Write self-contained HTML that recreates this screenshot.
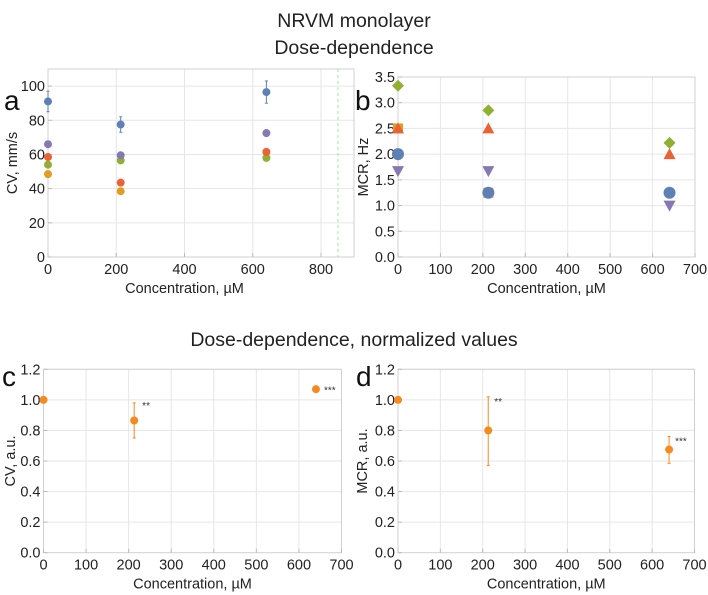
<!DOCTYPE html>
<html><head><meta charset="utf-8"><style>
html,body{margin:0;padding:0;background:#fff;}
svg{display:block;font-family:"Liberation Sans",sans-serif;}
</style></head><body>
<svg id="fig" width="708" height="595" viewBox="0 0 708 595" xmlns="http://www.w3.org/2000/svg">
<text x="354" y="27" font-size="19.5" text-anchor="middle" fill="#222">NRVM monolayer</text>
<text x="354" y="54" font-size="19.5" text-anchor="middle" fill="#222">Dose-dependence</text>
<text x="354" y="346" font-size="19.5" text-anchor="middle" fill="#222">Dose-dependence, normalized values</text>
</svg>
<script>
// ---- data ----
const concA = [0, 213, 640];
const cvBlue = [91, 77.5, 96.5];
const cvBlueErr = [6, 4.5, 6.5];
const cvPurple = [66, 59.5, 72.5];
const cvPurpleErr = [1.5, 1, 2];
const cvRed = [58.5, 43.5, 61.5];
const cvRedErr = [1, 0.5, 1.5];
const cvGreen = [54, 56.5, 58];
const cvGreenErr = [1, 1, 1];
const cvOrange = [48.5, 38.5, null];
const cvOrangeErr = [0.5, 0.5, 0];
const mcrGreen = [3.33, 2.85, 2.22];
const mcrRed = [2.5, 2.5, 2.0];
const mcrBlue = [2.0, 1.25, 1.25];
const mcrPurple = [1.67, 1.67, 1.0];
const mcrOrange = [2.5, 1.25, null];
const normCV = [1.0, 0.865, 1.07];
const normCVLo = [1.0, 0.75, 1.06];
const normCVHi = [1.0, 0.98, 1.08];
const normMCR = [1.0, 0.80, 0.675];
const normMCRLo = [1.0, 0.57, 0.585];
const normMCRHi = [1.0, 1.02, 0.76];
const sigLabelsC = ["", "**", "***"];
const sigLabelsD = ["", "**", "***"];
const ticksA_x = [0, 200, 400, 600, 800];
const ticksA_y = [0, 20, 40, 60, 80, 100];
const ticksB_x = [0, 100, 200, 300, 400, 500, 600, 700];
const ticksB_y = [0, 0.5, 1.0, 1.5, 2.0, 2.5, 3.0, 3.5];
const ticksN_y = [0, 0.2, 0.4, 0.6, 0.8, 1.0, 1.2];

const NS = "http://www.w3.org/2000/svg";
const svg = document.getElementById('fig');
function mk(tag, attrs, parent) {
  const e = document.createElementNS(NS, tag);
  for (const k in attrs) e.setAttribute(k, attrs[k]);
  (parent || svg).appendChild(e);
  return e;
}
function panel(p) {
  const g = mk('g', {});
  
  
  const sx = v => p.x0 + (v - p.xmin) / (p.xmax - p.xmin) * (p.x1 - p.x0);
  const sy = v => p.y0 - (v - p.ymin) / (p.ymax - p.ymin) * (p.y0 - p.y1);
  p.xt.forEach(t => { if (t > p.xmin) mk('line', {x1: sx(t), x2: sx(t), y1: p.y1, y2: p.y0, stroke: '#e6e6e6', 'stroke-width': 1}, g); });
  p.yt.forEach(t => { if (t > p.ymin) mk('line', {x1: p.x0, x2: p.right, y1: sy(t), y2: sy(t), stroke: '#e6e6e6', 'stroke-width': 1}, g); });
  const fr = mk('rect', {x: p.x0, y: p.y1, width: p.right - p.x0, height: p.y0 - p.y1, fill: 'none', stroke: '#d0d0d0', 'stroke-width': 1}, g);
  
  
  p.xt.forEach(t => {
    const tx = mk('text', {x: sx(t), y: p.y0 + 17, 'font-size': 14.5, 'text-anchor': 'middle', fill: '#222'}, g);
    tx.textContent = p.xfmt ? p.xfmt(t) : t;
    
    
    mk('line', {x1: sx(t), x2: sx(t), y1: p.y0, y2: p.y0 - 4, stroke: '#bbb'}, g);
  });
  p.yt.forEach(t => {
    const ty = mk('text', {x: p.x0 - 3, y: sy(t) + 5, 'font-size': 14.5, 'text-anchor': 'end', fill: '#222'}, g);
    ty.textContent = p.yfmt ? p.yfmt(t) : t;
    
    
    mk('line', {x1: p.x0, x2: p.x0 + 4, y1: sy(t), y2: sy(t), stroke: '#bbb'}, g);
  });
  const xl = mk('text', {x: (p.x0 + p.x1) / 2, y: p.y0 + 36, 'font-size': 14.5, 'text-anchor': 'middle', fill: '#222'}, g);
  xl.textContent = 'Concentration, \u00b5M';
  
  
  const yl = mk('text', {x: 0, y: 0, 'font-size': 14.5, 'text-anchor': 'middle', fill: '#222', transform: `translate(${p.ylx},${(p.y0 + p.y1) / 2}) rotate(-90)`}, g);
  yl.textContent = p.ytitle;
  
  
  const lt = mk('text', {x: p.lx, y: p.ly, 'font-size': 28, fill: '#111'}, g);
  lt.textContent = p.id;
  
  
  return {g, sx, sy};
}
function errPt(P, xs, ys, errLo, errHi, color, r) {
  xs.forEach((x, i) => {
    if (ys[i] == null) return;
    const cx = P.sx(x), cy = P.sy(ys[i]);
    if (errLo) {
      const lo = P.sy(errLo[i]), hi = P.sy(errHi[i]);
      const el = mk('line', {x1: cx, x2: cx, y1: lo, y2: hi, stroke: color, 'stroke-width': 1}, P.g);
      
      
      mk('line', {x1: cx - 1.5, x2: cx + 1.5, y1: lo, y2: lo, stroke: color}, P.g);
      mk('line', {x1: cx - 1.5, x2: cx + 1.5, y1: hi, y2: hi, stroke: color}, P.g);
    }
    const c = mk('circle', {cx, cy, r, fill: color}, P.g);
    
    
  });
}
function shapePt(P, xs, ys, color, shape) {
  xs.forEach((x, i) => {
    if (ys[i] == null) return;
    const cx = P.sx(x), cy = P.sy(ys[i]);
    let e;
    if (shape === 'circle') e = mk('circle', {cx, cy, r: 6, fill: color}, P.g);
    else if (shape === 'diamond') e = mk('polygon', {points: `${cx},${cy-6} ${cx+6},${cy} ${cx},${cy+6} ${cx-6},${cy}`, fill: color}, P.g);
    else if (shape === 'up') e = mk('polygon', {points: `${cx},${cy-6} ${cx+6},${cy+5} ${cx-6},${cy+5}`, fill: color}, P.g);
    else if (shape === 'down') e = mk('polygon', {points: `${cx},${cy+6} ${cx+6},${cy-5} ${cx-6},${cy-5}`, fill: color}, P.g);
    else e = mk('rect', {x: cx - 5, y: cy - 5, width: 10, height: 10, fill: color}, P.g);
    
    
  });
}
const lo = (v, e) => v.map((a, i) => a == null ? null : a - e[i]);
const hi = (v, e) => v.map((a, i) => a == null ? null : a + e[i]);

const A = panel({id: 'a', x0: 48, x1: 321, xmin: 0, xmax: 800, right: 354, y0: 257, y1: 69, ymin: 0, ymax: 110, xt: ticksA_x, yt: ticksA_y, ytitle: 'CV, mm/s', ylx: 17, lx: 4, ly: 110});
const dash = mk('line', {x1: 338, x2: 338, y1: 69, y2: 257, stroke: '#9e9', 'stroke-dasharray': '3,3'}, A.g);


errPt(A, concA, cvOrange, lo(cvOrange, cvOrangeErr), hi(cvOrange, cvOrangeErr), '#e19c24', 4);
errPt(A, concA, cvGreen, lo(cvGreen, cvGreenErr), hi(cvGreen, cvGreenErr), '#8fb032', 4);
errPt(A, concA, cvRed, lo(cvRed, cvRedErr), hi(cvRed, cvRedErr), '#eb6235', 4);
errPt(A, concA, cvPurple, lo(cvPurple, cvPurpleErr), hi(cvPurple, cvPurpleErr), '#8778b3', 4);
errPt(A, concA, cvBlue, lo(cvBlue, cvBlueErr), hi(cvBlue, cvBlueErr), '#5e81b5', 4);

const B = panel({id: 'b', x0: 398, x1: 695, xmin: 0, xmax: 700, right: 695, y0: 257, y1: 77, ymin: 0, ymax: 3.5, xt: ticksB_x, yt: ticksB_y, ytitle: 'MCR, Hz', ylx: 368, lx: 355, ly: 110, yfmt: t => t.toFixed(1)});
shapePt(B, concA, mcrOrange, '#e19c24', 'square');
shapePt(B, concA, mcrBlue, '#5e81b5', 'circle');
shapePt(B, concA, mcrRed, '#eb6235', 'up');
shapePt(B, concA, mcrGreen, '#8fb032', 'diamond');
shapePt(B, concA, mcrPurple, '#8778b3', 'down');

const C = panel({id: 'c', x0: 43.5, x1: 341.5, xmin: 0, xmax: 700, right: 341.5, y0: 552.7, y1: 369.3, ymin: 0, ymax: 1.2, xt: ticksB_x, yt: ticksN_y, ytitle: 'CV, a.u.', ylx: 15, lx: 2, ly: 386, yfmt: t => t.toFixed(1)});
errPt(C, concA, normCV, normCVLo, normCVHi, '#f7891f', 4);
concA.forEach((x, i) => {
  const t = mk('text', {x: C.sx(x) + 8, y: C.sy(normCVHi[i]) + 6, 'font-size': 10, fill: '#333'}, C.g);
  t.textContent = sigLabelsC[i];
  
  
});

const D = panel({id: 'd', x0: 398, x1: 694.5, xmin: 0, xmax: 700, right: 694.5, y0: 552.7, y1: 369.3, ymin: 0, ymax: 1.2, xt: ticksB_x, yt: ticksN_y, ytitle: 'MCR, a.u.', ylx: 367, lx: 356, ly: 386, yfmt: t => t.toFixed(1)});
errPt(D, concA, normMCR, normMCRLo, normMCRHi, '#f7891f', 4);
concA.forEach((x, i) => {
  const t = mk('text', {x: D.sx(x) + 6, y: D.sy(normMCRHi[i]) + 8, 'font-size': 10, fill: '#333'}, D.g);
  t.textContent = sigLabelsD[i];
  
  
});
</script>
</body></html>
